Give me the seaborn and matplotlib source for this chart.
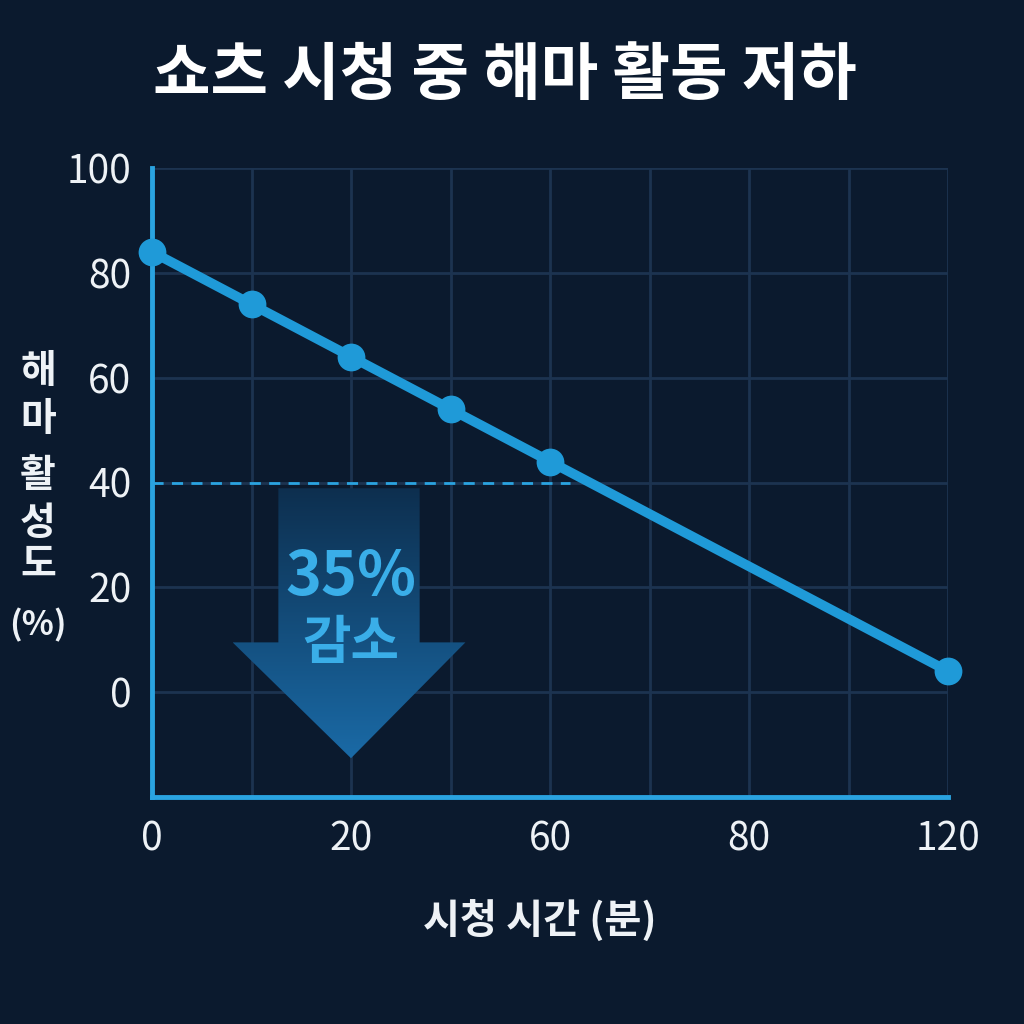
import numpy as np
import pandas as pd
import matplotlib
matplotlib.use("Agg")
import matplotlib.pyplot as plt
import seaborn as sns
from matplotlib.patches import Polygon

# data
x_pos = [0, 1, 2, 3, 4, 8]
activity = [84, 74, 64, 54, 44, 4]
x_tick_pos = [0, 2, 4, 6, 8]
x_tick_labels = ["0", "20", "60", "80", "120"]
y_ticks = [0, 20, 40, 60, 80, 100]
threshold = 40

title = "쇼츠 시청 중 해마 활동 저하"
xlabel = "시청 시간 (분)"
ylabel_parts = ["해", "마", "활", "성", "도", "(%)"]
ylabel_y = [372, 420, 476, 523, 564, 625]
badge_pct = "35%"
badge_word = "감소"

BG = "#0b1a2e"
BLUE = "#1f9ad8"
SPINE = "#2aa3e0"
GRID = "#1c3350"

sns.set_theme(style="dark")
plt.rcParams["font.family"] = ["Noto Sans CJK KR", "DejaVu Sans"]

df = pd.DataFrame({"x": x_pos, "y": activity})

fig = plt.figure(figsize=(10.24, 10.24), dpi=100, facecolor=BG)
ax = fig.add_axes([152 / 1024, 1 - 797 / 1024, (948 - 152) / 1024, (797 - 168) / 1024])
ax.set_facecolor(BG)

# grid
for xv in range(0, 9):
    ax.axvline(xv, color=GRID, lw=2, zorder=0)
for yv in range(-20, 101, 20):
    ax.axhline(yv, color=GRID, lw=2, zorder=0)

# arrow with gradient (dark top -> lighter bottom)
arrow_pts = [(1.27, 38.9), (2.69, 38.9), (2.69, 9.5), (3.15, 9.5), (2.0, -12.6),
             (0.81, 9.5), (1.27, 9.5)]
poly = Polygon(arrow_pts, closed=True, facecolor="none", edgecolor="none")
ax.add_patch(poly)
grad = np.linspace(0, 1, 256).reshape(-1, 1)
cmap = matplotlib.colors.LinearSegmentedColormap.from_list("arr", ["#0d2f4f", "#1a6aa6"])
im = ax.imshow(grad, extent=[0.81, 3.15, -12.6, 38.9], cmap=cmap, aspect="auto",
               origin="upper", zorder=1)
im.set_clip_path(poly)
ax.set_xlim(0, 8)
ax.set_ylim(-20, 100)

ax.text(2.0, 22, badge_pct, color="#3aaee8", fontsize=44, fontweight="bold",
        ha="center", va="center", zorder=3)
ax.text(2.0, 9.3, badge_word, color="#3aaee8", fontsize=38, fontweight="bold",
        ha="center", va="center", zorder=3)

# dashed threshold
ax.plot([0, 4.2], [threshold, threshold], color=SPINE, lw=2, ls=(0, (4, 3)), zorder=2)

sns.lineplot(data=df, x="x", y="y", ax=ax, color=BLUE, lw=7, marker="o",
             markersize=20, markeredgewidth=0, zorder=4, clip_on=False)

for s in ["top", "right"]:
    ax.spines[s].set_visible(False)
for s in ["left", "bottom"]:
    ax.spines[s].set_color(SPINE)
    ax.spines[s].set_linewidth(3.5)

ax.set_xticks(range(1, 9), minor=True)
ax.set_xticks(x_tick_pos)
ax.set_xticklabels(x_tick_labels)
ax.tick_params(axis="x", which="both", direction="in", length=8, width=2, color=SPINE)
ax.set_yticks(y_ticks)
ax.tick_params(axis="y", direction="in", length=8, width=2, color=SPINE)
ax.tick_params(axis="x", labelsize=28, labelcolor="#eef2f6", pad=16)
ax.tick_params(axis="y", labelsize=28, labelcolor="#eef2f6", pad=15)
ax.set_xlabel("")
ax.set_ylabel("")
ax.grid(False)

fig.text(505 / 1024, 1 - 76 / 1024, title, color="white", fontsize=45,
         fontweight="bold", ha="center", va="center")
fig.text(540 / 1024, 1 - 922 / 1024, xlabel, color="#eef2f6", fontsize=29,
         fontweight="bold", ha="center", va="center")
for part, py in zip(ylabel_parts, ylabel_y):
    fig.text(38 / 1024, 1 - py / 1024, part, color="#eef2f6",
             fontsize=28 if part != "(%)" else 24, fontweight="bold",
             ha="center", va="center")

fig.savefig("out.png", dpi=100, facecolor=BG)
